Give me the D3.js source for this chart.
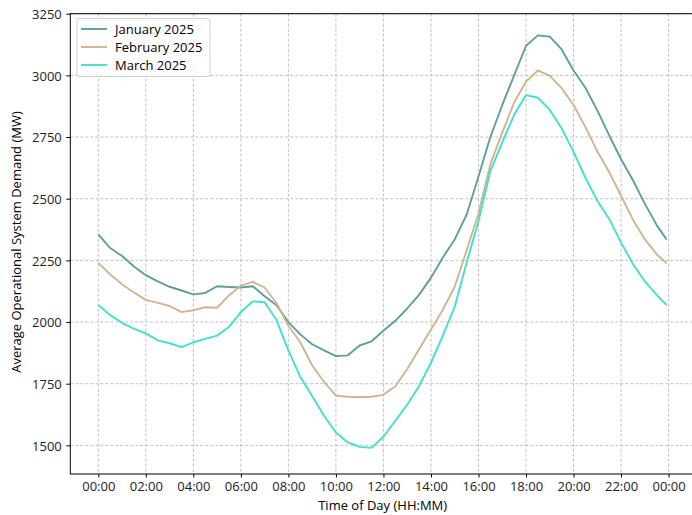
<!DOCTYPE html>
<html>
<head>
<meta charset="utf-8">
<script src="https://cdn.jsdelivr.net/npm/d3@7"></script>
<style>
  body { margin: 0; background: #fff; }
  svg { display: block; font-family: "Open Sans", sans-serif; }
  .grid line { stroke: #b0b0b0; stroke-dasharray: 3,2; stroke-width: 0.8; }
  .tick text { fill: #222; }
</style>
</head>
<body>
<svg id="chart"></svg>
<script>
// minutes after midnight, every 30 min, last sample at 23:55
const minutes = d3.range(0, 1440, 30).concat([1435]);

const january = [2355, 2300, 2268, 2225, 2190, 2165, 2143, 2128, 2112, 2118, 2145, 2142,
  2140, 2145, 2105, 2068, 2000, 1950, 1910, 1885, 1862, 1865, 1905, 1922,
  1965, 2005, 2055, 2110, 2180, 2262, 2335, 2435, 2590, 2750, 2880, 3000,
  3120, 3162, 3157, 3105, 3020, 2950, 2858, 2757, 2660, 2575, 2480, 2393, 2335];

const february = [2240, 2193, 2153, 2120, 2090, 2078, 2065, 2040, 2048, 2060, 2058, 2108,
  2148, 2163, 2140, 2076, 1985, 1918, 1825, 1757, 1702, 1697, 1695, 1697,
  1705, 1740, 1810, 1890, 1970, 2050, 2143, 2290, 2440, 2640, 2768, 2890,
  2975, 3020, 2998, 2948, 2880, 2790, 2692, 2608, 2512, 2415, 2335, 2275, 2238];

const march = [2069, 2028, 1997, 1972, 1954, 1926, 1914, 1898, 1918, 1932, 1945, 1980,
  2040, 2084, 2080, 2008, 1885, 1778, 1700, 1620, 1552, 1512, 1494, 1490,
  1535, 1600, 1665, 1740, 1835, 1945, 2062, 2240, 2410, 2612, 2728, 2840,
  2920, 2910, 2860, 2785, 2690, 2585, 2492, 2418, 2322, 2235, 2165, 2110, 2069];

const seriesNames = ['January 2025', 'February 2025', 'March 2025'];
const seriesColors = ['#5f9ea0', '#d2b48c', '#40e0d0'];
const yTicks = [1500, 1750, 2000, 2250, 2500, 2750, 3000, 3250];
const xTicks = d3.range(0, 1441, 120);

const width = 692, height = 515;
const marginLeft = 70.3, marginRight = 695, marginTop = 13.7, marginBottom = 474;
const fontSize = '13px';

const svg = d3.select('#chart')
  .attr('width', width)
  .attr('height', height);

// x in minutes, 0 -> 00:00, 1440 -> next 00:00
const x = d3.scaleLinear().domain([-70.7, 1506.7]).range([marginLeft, marginRight]);
const y = d3.scaleLinear().domain([1384, 3250]).range([marginBottom, marginTop]);

const fmt = (m) => d3.format('02d')(Math.floor(m / 60) % 24) + ':' + d3.format('02d')(m % 60);

// grid
svg.append('g').attr('class', 'grid')
  .selectAll('line').data(xTicks).join('line')
  .attr('x1', d => x(d)).attr('x2', d => x(d))
  .attr('y1', marginTop).attr('y2', marginBottom);
svg.append('g').attr('class', 'grid')
  .selectAll('line').data(yTicks).join('line')
  .attr('x1', marginLeft).attr('x2', marginRight)
  .attr('y1', d => y(d)).attr('y2', d => y(d));

// lines
const data = [january, february, march];
const line = d3.line()
  .x((d, i) => x(minutes[i]))
  .y(d => y(d));

svg.append('g').selectAll('path')
  .data(data)
  .join('path')
  .attr('d', d => line(d))
  .attr('fill', 'none')
  .attr('stroke', (d, i) => seriesColors[i])
  .attr('stroke-width', 1.9)
  .attr('stroke-linejoin', 'round');

// axes
const xAxis = svg.append('g')
  .attr('transform', `translate(0,${marginBottom})`)
  .call(d3.axisBottom(x).tickValues(xTicks).tickFormat(fmt).tickSize(3.5).tickPadding(4));
const yAxis = svg.append('g')
  .attr('transform', `translate(${marginLeft},0)`)
  .call(d3.axisLeft(y).tickValues(yTicks).tickFormat(d3.format('d')).tickSize(4).tickPadding(4.5));

[xAxis, yAxis].forEach(g => {
  g.selectAll('text').style('font-size', fontSize).style('font-family', '"Open Sans", sans-serif');
  g.select('.domain').remove();
});
yAxis.selectAll('text').attr('dy', '0.36em');

// spines
svg.append('rect')
  .attr('x', marginLeft).attr('y', marginTop)
  .attr('width', marginRight - marginLeft).attr('height', marginBottom - marginTop)
  .attr('fill', 'none').attr('stroke', '#000').attr('stroke-width', 1);

// axis labels
svg.append('text')
  .attr('x', (marginLeft + marginRight) / 2).attr('y', 509.5)
  .attr('text-anchor', 'middle')
  .style('font-size', fontSize)
  .text('Time of Day (HH:MM)');
svg.append('text')
  .attr('transform', `translate(21,242) rotate(-90)`)
  .attr('text-anchor', 'middle')
  .style('font-size', fontSize)
  .text('Average Operational System Demand (MW)');

// legend
const legend = svg.append('g').attr('transform', 'translate(77,18.5)');
legend.append('rect')
  .attr('width', 133).attr('height', 58).attr('rx', 2)
  .attr('fill', '#fff').attr('fill-opacity', 0.8)
  .attr('stroke', '#d0d0d0');
seriesNames.forEach((name, i) => {
  const row = legend.append('g').attr('transform', `translate(0,${10.5 + i * 18})`);
  row.append('line').attr('x1', 4).attr('x2', 30)
    .attr('stroke', seriesColors[i]).attr('stroke-width', 1.9);
  row.append('text').attr('x', 38).attr('y', 4.5)
    .style('font-size', fontSize).text(name);
});
</script>
</body>
</html>
